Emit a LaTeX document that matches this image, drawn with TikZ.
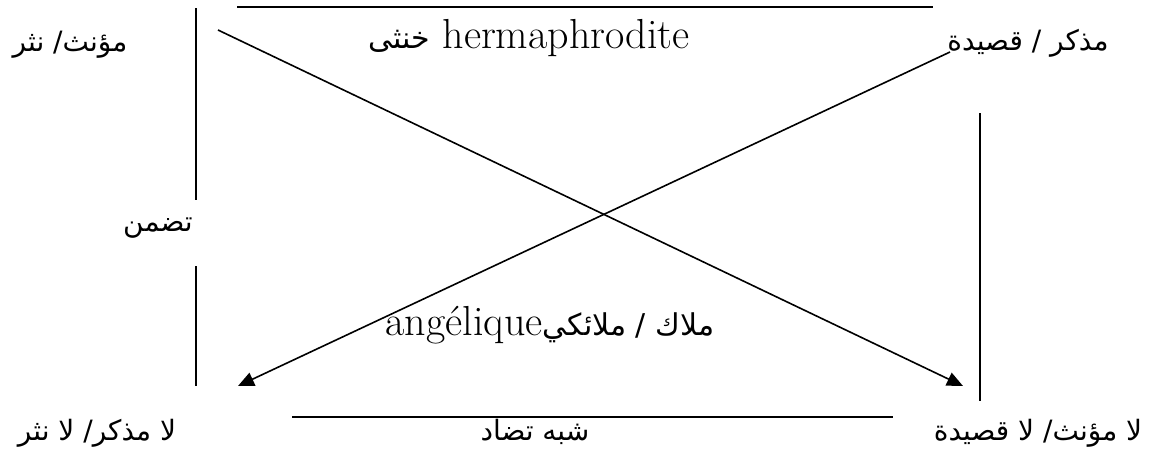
\documentclass[tikz,border=0pt]{standalone}
\usepackage{fontspec}
\newfontfamily\arabicfont[Script=Arabic]{DejaVu Sans}
\TeXXeTstate=1
\usetikzlibrary{arrows.meta,positioning}

\begin{document}
\begin{tikzpicture}[x=0.5pt,y=-0.5pt,
   term/.style={font=\arabicfont\fontsize{14}{16}\selectfont,inner sep=0pt},
   latin/.style={font=\fontsize{21}{23}\selectfont,inner sep=0pt},
   rel/.style={line width=1pt},
   diag/.style={line width=0.8pt,-{Triangle[length=8pt,width=7pt]}}]
  \useasboundingbox (0,0) rectangle (1152,456);
  % corner terms
  \node[term] (fem) at (70,45) {\beginR مؤنث/ نثر\endR};
  \node[term] (masc) at (1028,43) {\beginR مذكر / قصيدة\endR};
  \node[term] (nomasc) at (97,433) {\beginR لا مذكر/ لا نثر\endR};
  \node[term] (nofem) at (1038,433) {\beginR لا مؤنث/ لا قصيدة\endR};
  % relation labels
  \node[latin] (herm) at (529,38) {{\arabicfont\fontsize{15}{17}\selectfont\beginR خنثى\endR} hermaphrodite};
  \node[term] (impl) at (158,228) {\beginR تضمن\endR};
  \node[latin] (ange) at (550,325) {angélique{\arabicfont\fontsize{15}{17}\selectfont\beginR ملاك / ملائكي\endR}};
  \node[term] (sub) at (535,432) {\beginR شبه تضاد\endR};
  % line ends
  \coordinate (t1) at (237,7);   \coordinate (t2) at (933,7);
  \coordinate (b1) at (292,417); \coordinate (b2) at (893,417);
  \coordinate (l1) at (196,8);   \coordinate (l2) at (196,200);
  \coordinate (l3) at (196,266); \coordinate (l4) at (196,386);
  \coordinate (r1) at (980,113); \coordinate (r2) at (980,401);
  \coordinate (d1) at (218,30);  \coordinate (d2) at (963,386);
  \coordinate (e1) at (950,52);  \coordinate (e2) at (238,386);
  \draw[rel] (t1) -- (t2);
  \draw[rel] (b1) -- (b2);
  \draw[rel] (l1) -- (l2);
  \draw[rel] (l3) -- (l4);
  \draw[rel] (r1) -- (r2);
  \draw[diag] (d1) -- (d2);
  \draw[diag] (e1) -- (e2);
\end{tikzpicture}
\end{document}
